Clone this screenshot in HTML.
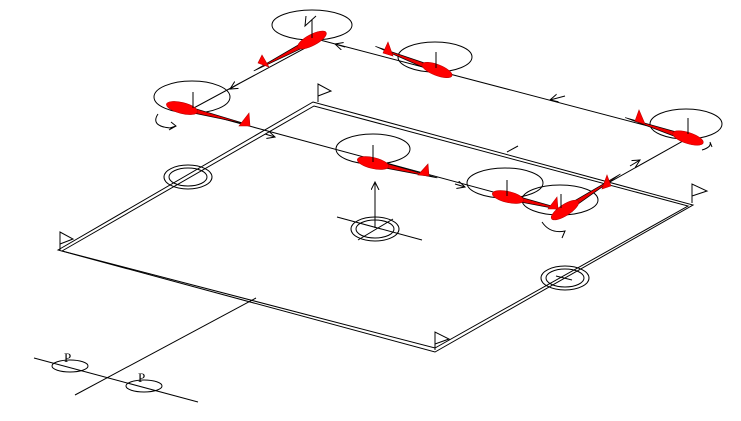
<!DOCTYPE html>
<html><head><meta charset="utf-8"><style>html,body{margin:0;padding:0;background:#fff}svg{display:block}</style></head><body>
<svg width="741" height="421" viewBox="0 0 741 421" xmlns="http://www.w3.org/2000/svg" fill="none" stroke="#000" stroke-width="1">
<defs>
<marker id="a" markerWidth="10" markerHeight="10" refX="8" refY="4" orient="auto" markerUnits="userSpaceOnUse"><path d="M0,0 L8,4 L0,8" fill="none" stroke="#000"/></marker>
<g id="pl"><path d="M-4,-2.5 L-66,0 L-4,3 Z" fill="#e00" stroke="#000" stroke-width="0.7"/><ellipse cx="0" cy="0" rx="16" ry="5.5" fill="#f00" stroke="#b00" stroke-width="0.6"/></g>
</defs>
<path d="M58,250 L313,102 L693,205 L435,352 Z"/>
<path d="M62,251 L314,106 L688,206 L435,348 Z"/>
<path d="M60,250 V232 L73,239 L60,244"/>
<path d="M318,102 V84 L331,91 L318,96"/>
<path d="M692,203 V184 L707,191 L692,196"/>
<path d="M435,350 V332 L449,339 L435,344"/>
<ellipse cx="188" cy="177" rx="24" ry="12"/><ellipse cx="188" cy="177" rx="19" ry="9"/>
<ellipse cx="375" cy="229" rx="24" ry="12"/><ellipse cx="375" cy="229" rx="19" ry="9"/>
<ellipse cx="565" cy="278" rx="24" ry="12"/><ellipse cx="565" cy="278" rx="19" ry="9"/>
<path d="M337,217 L422,240 M358,240 L393,219"/>
<path d="M375,228 V182" marker-end="url(#a)"/>
<path d="M556,276 L572,280"/>
<path d="M75,395 L256,298"/>
<path d="M34,358 L198,402"/>
<ellipse cx="70" cy="366" rx="18" ry="6"/><ellipse cx="144" cy="386" rx="18" ry="6"/>
<text x="64" y="362" font-family="Liberation Serif,serif" font-size="13" fill="#000" stroke="none">P</text>
<text x="138" y="382" font-family="Liberation Serif,serif" font-size="13" fill="#000" stroke="none">P</text>
<path d="M320,40 L690,137 L560,210 L190,110 Z"/>
<path d="M507,152 L518,146"/>
<path d="M565,96 L550,100" marker-end="url(#a)"/>
<path d="M345,47 L335,44" marker-end="url(#a)"/>
<path d="M240,83 L230,89" marker-end="url(#a)"/>
<path d="M265,134 L275,137" marker-end="url(#a)"/>
<path d="M455,184 L465,187" marker-end="url(#a)"/>
<path d="M630,166 L640,160" marker-end="url(#a)"/>
<ellipse cx="192" cy="97" rx="38" ry="16"/>
<ellipse cx="312" cy="25" rx="40" ry="15"/>
<ellipse cx="435" cy="57" rx="37" ry="15"/>
<ellipse cx="686" cy="124" rx="36" ry="15"/>
<ellipse cx="373" cy="149" rx="37" ry="15"/>
<ellipse cx="505" cy="183" rx="38" ry="15"/>
<ellipse cx="560" cy="200" rx="38" ry="15"/>
<path d="M158,114 Q150,126 170,128 L176,126 M171,122 L176,126 L169,130"/>
<path d="M542,222 Q550,234 565,231 L562,238"/>
<path d="M702,150 Q712,147 710,142 L712,147"/>
<path d="M306,16 L305,26 L316,16"/>
<use href="#pl" transform="translate(182,108) rotate(194)"/>
<use href="#pl" transform="translate(312,40) rotate(-28)"/>
<use href="#pl" transform="translate(437,70) rotate(21)"/>
<use href="#pl" transform="translate(688,138) rotate(18)"/>
<use href="#pl" transform="translate(373,163) rotate(193)"/>
<use href="#pl" transform="translate(508,197) rotate(193)"/>
<use href="#pl" transform="translate(565,210) rotate(147)"/>
<g fill="#f00" stroke="#b00" stroke-width="0.6">
<path d="M239,126 L250,126 L249,113 Z"/>
<path d="M258,63 L269,67 L262,55 Z"/>
<path d="M383,53 L393,56 L388,42 Z"/>
<path d="M635,121 L645,124 L639,110 Z"/>
<path d="M418,175 L429,176 L428,164 Z"/>
<path d="M548,209 L558,209 L557,197 Z"/>
<path d="M602,189 L611,186 L607,175 Z"/>
</g>
<path d="M193,108 V92 M312,38 V20 M436,68 V52 M688,134 V118 M373,162 V145 M507,196 V180 M561,208 V194"/>
</svg>
</body></html>
